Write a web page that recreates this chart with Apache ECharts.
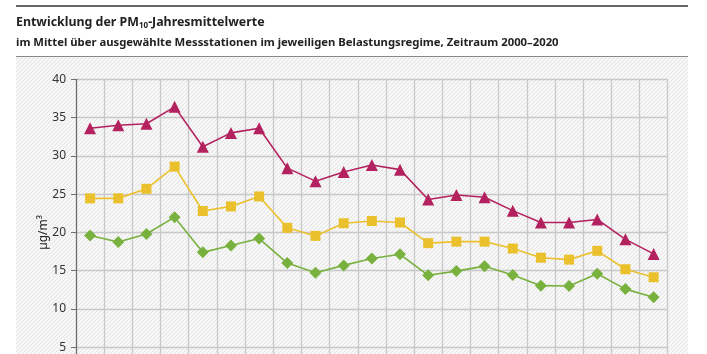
<!DOCTYPE html>
<html>
<head>
<meta charset="utf-8">
<style>
  html, body { margin: 0; padding: 0; background: #fff; }
  #chart { width: 707px; height: 354px; }
</style>
<script src="https://cdn.jsdelivr.net/npm/echarts@6/dist/echarts.min.js"></script>
</head>
<body>
<div id="chart"></div>
<script>
// Jahre 2000–2020
var years = ['2000', '2001', '2002', '2003', '2004', '2005', '2006', '2007', '2008', '2009', '2010',
  '2011', '2012', '2013', '2014', '2015', '2016', '2017', '2018', '2019', '2020'];
var yTicks = [0, 5, 10, 15, 20, 25, 30, 35, 40];

// Werte in µg/m³
var verkehr = [33.6, 34.0, 34.2, 36.4, 31.2, 33.0, 33.6, 28.4, 26.7, 27.9, 28.8,
  28.2, 24.3, 24.9, 24.6, 22.85, 21.3, 21.3, 21.7, 19.1, 17.2];
var staedtisch = [24.45, 24.45, 25.7, 28.6, 22.8, 23.4, 24.7, 20.6, 19.55, 21.2, 21.5,
  21.3, 18.6, 18.8, 18.8, 17.9, 16.7, 16.45, 17.6, 15.2, 14.15];
var laendlich = [19.6, 18.75, 19.8, 22.0, 17.4, 18.3, 19.2, 16.0, 14.75, 15.7, 16.6,
  17.15, 14.4, 14.95, 15.6, 14.45, 13.05, 13.0, 14.6, 12.6, 11.55];

// schraffierter Hintergrund
function hatch () {
  var c = document.createElement('canvas');
  c.width = 4;
  c.height = 4;
  var ctx = c.getContext('2d');
  ctx.fillStyle = '#f7f7f7';
  ctx.fillRect(0, 0, 4, 4);
  ctx.strokeStyle = '#e4e4e4';
  ctx.lineWidth = 1;
  ctx.beginPath();
  ctx.moveTo(0, 4);
  ctx.lineTo(4, 0);
  ctx.stroke();
  return c;
}

var font = '"Noto Sans", sans-serif';

function line (name, data, color, symbol, size) {
  return {
    name: name,
    type: 'line',
    data: data,
    symbol: symbol,
    symbolSize: size,
    lineStyle: { color: color, width: 1.6 },
    itemStyle: { color: color },
    z: 3
  };
}

var chart = echarts.init(document.getElementById('chart'));
chart.setOption({
  animation: false,
  textStyle: { fontFamily: font },
  graphic: [
    {
      type: 'rect', z: -10, silent: true,
      shape: { x: 16, y: 57, width: 672, height: 297 },
      style: { fill: { image: hatch(), repeat: 'repeat' } }
    },
    {
      type: 'line', silent: true,
      shape: { x1: 16, y1: 6, x2: 688, y2: 6 },
      style: { stroke: '#333', lineWidth: 1.5 }
    },
    {
      type: 'line', silent: true,
      shape: { x1: 16, y1: 56.5, x2: 688, y2: 56.5 },
      style: { stroke: '#8a8a8a', lineWidth: 1 }
    },
    {
      type: 'text', left: 16, top: 16,
      style: {
        text: '{b|Entwicklung der PM}{s|10}{b|-Jahresmittelwerte}',
        rich: {
          b: { fontFamily: font, fontSize: 12.4, fontWeight: 'bold', fill: '#222' },
          s: { fontFamily: font, fontSize: 8, fontWeight: 'bold', fill: '#222', padding: [7, 0, 0, 0] }
        }
      }
    },
    {
      type: 'text', left: 16, top: 37,
      style: {
        text: 'im Mittel über ausgewählte Messstationen im jeweiligen Belastungsregime, Zeitraum 2000–2020',
        fontFamily: font, fontSize: 11.3, fontWeight: 'bold', fill: '#222'
      }
    }
  ],
  grid: { left: 76, top: 79.3, width: 591.7, height: 306.3, outerBoundsMode: 'none', containLabel: false },
  xAxis: {
    type: 'category',
    data: years,
    boundaryGap: true,
    axisLine: { lineStyle: { color: '#7a7a7a' } },
    axisTick: { show: true, interval: 0, length: 0 },
    axisLabel: { interval: 0 },
    splitLine: { show: true, interval: 0, lineStyle: { color: '#c8c8c8', width: 1.3 } }
  },
  yAxis: {
    type: 'value',
    min: 0,
    max: 40,
    interval: 5,
    name: 'µg/m³',
    nameLocation: 'middle',
    nameRotate: 90,
    nameGap: 26,
    nameMoveOverlap: false,
    nameTextStyle: { fontSize: 12, color: '#222', fontFamily: font },
    axisLine: { show: true, lineStyle: { color: '#6e6e6e', width: 1.2 } },
    axisTick: { show: true, length: 5, lineStyle: { color: '#6e6e6e' } },
    axisLabel: {
      margin: 10, fontSize: 12, color: '#333', fontFamily: font,
      formatter: function (v) { return yTicks.indexOf(v) >= 0 ? String(v) : ''; }
    },
    splitLine: { show: true, lineStyle: { color: '#c8c8c8', width: 1.3 } }
  },
  series: [
    line('verkehrsnah', verkehr, '#b3225f', 'triangle', 12),
    line('städtischer Hintergrund', staedtisch, '#eac12c', 'rect', 10),
    line('ländlicher Hintergrund', laendlich, '#79b13f', 'diamond', 12)
  ]
});
</script>
</body>
</html>
